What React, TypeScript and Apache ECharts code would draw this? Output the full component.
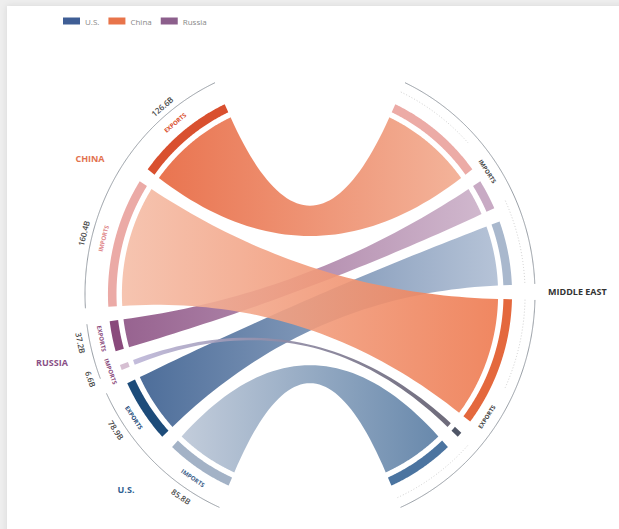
import React, { useEffect, useRef } from "react";
import * as echarts from "echarts";

// ---------- data ----------
const countries = ["China", "Russia", "U.S."];
const legendOrder = ["U.S.", "China", "Russia"];
const exportsToMiddleEast = [126.6, 37.2, 78.9]; // billions USD
const importsFromMiddleEast = [160.4, 6.6, 85.8]; // billions USD
const countryLabels = ["CHINA", "RUSSIA", "U.S."];
const partnerLabel = "MIDDLE EAST";
const flowLabels = ["EXPORTS", "IMPORTS"];

// ---------- styles ----------
const countryColors = ["#e8744a", "#8c5f8c", "#3f5e95"];
const countryLabelColors = ["#e2724f", "#8a4f86", "#2f5f91"];
// [left exports, left imports, ME imports (from country), ME exports (to country)]
const barColors = [
  ["#d9502f", "#ebaaa6", "#ecaba6", "#e4683d"],
  ["#8a4a7c", "#d6bfd2", "#c8aac4", "#4f5566"],
  ["#1d4c7a", "#a3b2c6", "#a9b8cd", "#4b74a0"],
];
// [exports ribbon [left,right], imports ribbon [left,right]]
const ribbonColors = [
  [["#e7653d", "#f2ab8f"], ["#f5bea8", "#ee7a50"]],
  [["#8c5284", "#cbb0c8"], ["#bdb6d8", "#5d5a6b"]],
  [["#3a5e8f", "#aebdd3"], ["#bcc7d7", "#587ca3"]],
];
const tagColors = [
  ["#d9502f", "#e0878a"],
  ["#8a4a7c", "#8a4a7c"],
  ["#1d4c7a", "#3d5f8a"],
];

// ---------- layout ----------
const FULL = 1600; // value units per full turn
const START = 111;
const GAP = 17.6;
const CX = 310, CY = 294, R = 225, SY = 1.036;
const R_RIB = 0.836, R_BAR0 = 0.86, R_BAR1 = 0.898, R_TAG = 0.947, R_DOT = 0.956, R_LINE = 1.0, R_VAL = 1.04;
const countryLabelR = [1.138, 1.184, 1.172];
const R_ME_LABEL = 1.058;
const FONT = "'Open Sans', 'DejaVu Sans', sans-serif";

type Side = "L" | "R";
type Span = [number, number];
type Mark =
  | { kind: "bar"; side: Side; span: Span; color: string }
  | { kind: "ribbon"; left: Span; right: Span; colors: string[] }
  | { kind: "line"; side: Side; span: Span; r: number; color: string; width: number; dash?: number[] }
  | { kind: "text"; side: Side; pos: number; r: number; text: string; color: string; size: number; weight: any; mode: "tangent" | "center" | "left" };

function spans(values: number[]): Span[] {
  let p = START;
  return values.map((v) => {
    const s = p;
    p += v;
    const seg: Span = [s, p];
    p += GAP;
    return seg;
  });
}

const leftValues = countries.flatMap((_, i) => [exportsToMiddleEast[i], importsFromMiddleEast[i]]);
const rightValues = [...exportsToMiddleEast, ...importsFromMiddleEast];
const leftSpans = spans(leftValues);
const rightSpans = spans(rightValues);
const mid = (s: Span) => (s[0] + s[1]) / 2;

function countryMarks(c: number): Mark[] {
  const lEx = leftSpans[2 * c], lIm = leftSpans[2 * c + 1];
  const rIm = rightSpans[c], rEx = rightSpans[3 + c];
  const marks: Mark[] = [
    { kind: "ribbon", left: lEx, right: rIm, colors: ribbonColors[c][0] },
    { kind: "ribbon", left: lIm, right: rEx, colors: ribbonColors[c][1] },
    { kind: "bar", side: "L", span: lEx, color: barColors[c][0] },
    { kind: "bar", side: "L", span: lIm, color: barColors[c][1] },
    { kind: "bar", side: "R", span: rIm, color: barColors[c][2] },
    { kind: "bar", side: "R", span: rEx, color: barColors[c][3] },
    { kind: "line", side: "L", span: [lEx[0], lIm[1]], r: R_LINE, color: "#8c939b", width: 0.9 },
    { kind: "text", side: "L", pos: (lEx[0] + lIm[1]) / 2, r: countryLabelR[c], text: countryLabels[c], color: countryLabelColors[c], size: 9, weight: "bold", mode: "center" },
    { kind: "text", side: "L", pos: mid(lEx), r: R_VAL, text: `${exportsToMiddleEast[c]}B`, color: "#4a4a4a", size: 8, weight: 600, mode: "tangent" },
    { kind: "text", side: "L", pos: mid(lIm), r: R_VAL, text: `${importsFromMiddleEast[c]}B`, color: "#4a4a4a", size: 8, weight: 600, mode: "tangent" },
    { kind: "text", side: "L", pos: mid(lEx), r: R_TAG, text: flowLabels[0], color: tagColors[c][0], size: 6, weight: "bold", mode: "tangent" },
    { kind: "text", side: "L", pos: mid(lIm), r: R_TAG, text: flowLabels[1], color: tagColors[c][1], size: 6, weight: "bold", mode: "tangent" },
  ];
  return marks;
}

function partnerMarks(): Mark[] {
  const impGroup: Span = [rightSpans[0][0], rightSpans[2][1]];
  const expGroup: Span = [rightSpans[3][0], rightSpans[5][1]];
  const hole = 40;
  const marks: Mark[] = [
    { kind: "line", side: "R", span: impGroup, r: R_LINE, color: "#8c939b", width: 0.9 },
    { kind: "line", side: "R", span: expGroup, r: R_LINE, color: "#8c939b", width: 0.9 },
  ];
  [impGroup, expGroup].forEach((g) => {
    const m = mid(g);
    marks.push({ kind: "line", side: "R", span: [g[0], m - hole], r: R_DOT, color: "#c4c4c4", width: 0.8, dash: [1, 2] });
    marks.push({ kind: "line", side: "R", span: [m + hole, g[1]], r: R_DOT, color: "#c4c4c4", width: 0.8, dash: [1, 2] });
  });
  marks.push({ kind: "text", side: "R", pos: mid(impGroup), r: R_TAG, text: flowLabels[1], color: "#444", size: 6, weight: "bold", mode: "tangent" });
  marks.push({ kind: "text", side: "R", pos: mid(expGroup), r: R_TAG, text: flowLabels[0], color: "#444", size: 6, weight: "bold", mode: "tangent" });
  marks.push({ kind: "text", side: "R", pos: (impGroup[1] + expGroup[0]) / 2, r: R_ME_LABEL, text: partnerLabel, color: "#333", size: 9, weight: "bold", mode: "left" });
  return marks;
}

function makeRenderer(marks: Mark[]) {
  return (params: any, api: any) => {
    const m = marks[params.dataIndex];
    const c0 = api.coord([0, 0]);
    const P = (r: number, side: Side, p: number): number[] => {
      const q = api.coord([r, side === "L" ? FULL - p : p]);
      return [q[0], c0[1] + (q[1] - c0[1]) * SY];
    };
    const arc = (r: number, side: Side, p0: number, p1: number) => {
      const n = Math.max(2, Math.ceil(Math.abs(p1 - p0) / 1.2));
      const pts: number[][] = [];
      for (let i = 0; i <= n; i++) pts.push(P(r, side, p0 + ((p1 - p0) * i) / n));
      return pts;
    };
    const quad = (a: number[], c: number[], b: number[]) => {
      const pts: number[][] = [];
      const N = 48;
      for (let i = 1; i < N; i++) {
        const t = i / N;
        const u = 1 - t;
        pts.push([u * u * a[0] + 2 * u * t * c[0] + t * t * b[0], u * u * a[1] + 2 * u * t * c[1] + t * t * b[1]]);
      }
      return pts;
    };
    if (m.kind === "bar") {
      const pts = [...arc(R_BAR1, m.side, m.span[0], m.span[1]), ...arc(R_BAR0, m.side, m.span[1], m.span[0])];
      return { type: "polygon", shape: { points: pts }, style: { fill: m.color } };
    }
    if (m.kind === "ribbon") {
      const [ls, le] = m.left;
      const [rs, re] = m.right;
      const L0 = P(R_RIB, "L", ls), L1 = P(R_RIB, "L", le);
      const R0 = P(R_RIB, "R", rs), R1 = P(R_RIB, "R", re);
      const pts = [
        ...arc(R_RIB, "L", ls, le),
        ...quad(L1, c0, R1),
        ...arc(R_RIB, "R", re, rs),
        ...quad(R0, c0, L0),
      ];
      return {
        type: "polygon",
        shape: { points: pts },
        style: {
          fill: {
            type: "linear", x: 0, y: 0, x2: 1, y2: 0,
            colorStops: [
              { offset: 0, color: m.colors[0] },
              { offset: 1, color: m.colors[1] },
            ],
          },
          opacity: 0.9,
        },
      };
    }
    if (m.kind === "line") {
      return {
        type: "polyline",
        shape: { points: arc(m.r, m.side, m.span[0], m.span[1]) },
        style: { stroke: m.color, lineWidth: m.width, fill: "none", lineDash: m.dash || null },
      };
    }
    // text
    const q = P(m.r, m.side, m.pos);
    let rotation = 0;
    let align = "center";
    if (m.mode === "tangent") {
      const a = P(m.r, m.side, m.pos - 0.5);
      const b = P(m.r, m.side, m.pos + 0.5);
      let rot = -Math.atan2(b[1] - a[1], b[0] - a[0]);
      if (rot > Math.PI / 2) rot -= Math.PI;
      if (rot < -Math.PI / 2) rot += Math.PI;
      rotation = rot;
    } else if (m.mode === "left") {
      align = "left";
    }
    return {
      type: "text",
      x: q[0],
      y: q[1],
      rotation,
      style: {
        text: m.text,
        fill: m.color,
        fontSize: m.size,
        fontWeight: m.weight,
        fontFamily: FONT,
        align,
        verticalAlign: "middle",
      },
    };
  };
}

function seriesFor(name: string, marks: Mark[], color: string, z: number) {
  return {
    type: "custom",
    name,
    coordinateSystem: "polar",
    z,
    itemStyle: { color },
    silent: true,
    data: marks.map((m) => [R_BAR0, m.kind === "ribbon" ? mid(m.left) : m.kind === "text" ? m.pos : mid(m.span)]),
    renderItem: makeRenderer(marks),
  };
}

function buildOption() {
  const zs = [4, 3, 2];
  const series: any[] = countries.map((name, c) => seriesFor(name, countryMarks(c), countryColors[c], zs[c]));
  series.push(seriesFor("Middle East", partnerMarks(), "#444", 5));
  return {
    animation: false,
    backgroundColor: "#eeeeee",
    graphic: [
      {
        type: "rect",
        z: -10,
        silent: true,
        shape: { x: 7, y: 6, width: 650, height: 560 },
        style: { fill: "#ffffff", shadowBlur: 6, shadowColor: "rgba(0,0,0,0.10)" },
      },
    ],
    legend: {
      data: legendOrder,
      top: 12,
      left: 58,
      icon: "rect",
      itemWidth: 17,
      itemHeight: 7,
      itemGap: 9,
      selectedMode: false,
      textStyle: { fontSize: 8, color: "#888", fontFamily: FONT },
    },
    polar: { center: [CX, CY], radius: R },
    angleAxis: { type: "value", min: 0, max: FULL, startAngle: 90, clockwise: true, show: false },
    radiusAxis: { type: "value", min: 0, max: 1, show: false },
    series,
  };
}

export default function App() {
  const ref = useRef<HTMLDivElement>(null);
  useEffect(() => {
    const chart = echarts.init(ref.current as HTMLDivElement, null, { renderer: "svg" });
    chart.setOption(buildOption() as any);
    return () => chart.dispose();
  }, []);
  return <div ref={ref} style={{ position: "absolute", left: 0, top: 0, width: 619, height: 529 }} />;
}
